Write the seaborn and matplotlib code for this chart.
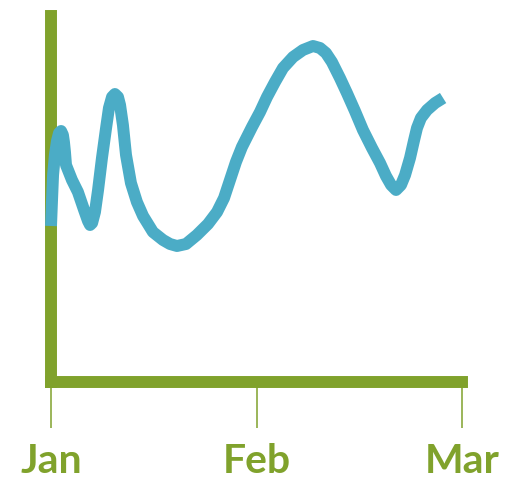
import pandas as pd
import numpy as np
import matplotlib
matplotlib.use("Agg")
import matplotlib.pyplot as plt
import seaborn as sns

# month position (Jan=0, Feb=1, Mar=2) and value (arbitrary units)
month_pos = [0.000, 0.005, 0.010, 0.019, 0.029, 0.039, 0.049, 0.058, 0.063, 0.068,
             0.073, 0.102, 0.131, 0.161, 0.180, 0.190, 0.200, 0.214, 0.229, 0.248,
             0.268, 0.282, 0.297, 0.311, 0.326, 0.336, 0.350, 0.365, 0.389, 0.418,
             0.448, 0.496, 0.545, 0.579, 0.613, 0.657, 0.710, 0.764, 0.808, 0.842,
             0.871, 0.900, 0.929, 0.978, 1.017, 1.051, 1.090, 1.129, 1.178, 1.226,
             1.275, 1.309, 1.338, 1.367, 1.406, 1.440, 1.479, 1.518, 1.562, 1.601,
             1.630, 1.655, 1.679, 1.703, 1.723, 1.747, 1.767, 1.781, 1.800, 1.830,
             1.869, 1.908]
values = [156, 182, 207, 227, 241, 249, 251, 247, 240, 230,
          217, 202, 190, 172, 161, 157, 159, 170, 192, 224,
          254, 274, 285, 288, 285, 277, 257, 227, 199, 180,
          166, 150, 142, 138, 136, 138, 147, 158, 170, 184,
          202, 220, 235, 255, 270, 285, 300, 314, 325, 332,
          336, 334, 329, 320, 304, 289, 271, 252, 234, 219,
          206, 197, 192, 197, 207, 224, 242, 254, 264, 272,
          279, 284]
month_labels = ["Jan", "Feb", "Mar"]

df = pd.DataFrame({"month": month_pos, "value": values})

green = "#80A22C"
blue = "#4BACC6"

sns.set_style("white")
plt.rcParams["font.family"] = ["Lato", "DejaVu Sans"]

fig = plt.figure(figsize=(5.05, 4.82), dpi=100)
ax = fig.add_axes([51 / 505, 100 / 482, 411 / 505, 366 / 482])

sns.lineplot(data=df, x="month", y="value", color=blue, linewidth=8.6,
             sort=False, estimator=None, ax=ax)
for l in ax.lines:
    l.set_solid_capstyle("butt")
    l.set_solid_joinstyle("round")
    l.set_zorder(3)
    l.set_clip_on(False)

ax.set_xlim(0, 2)
ax.set_ylim(0, 366)
ax.set_xticks([0, 1, 2])
ax.set_xticklabels(month_labels)
ax.set_yticks([])
ax.set_xlabel("")
ax.set_ylabel("")

for side in ["top", "right"]:
    ax.spines[side].set_visible(False)
for side in ["left", "bottom"]:
    ax.spines[side].set_color(green)
    ax.spines[side].set_linewidth(8.6)
    ax.spines[side].set_capstyle("projecting")

ax.tick_params(axis="x", bottom=True, direction="out", length=33, width=1.1,
               color=green, labelcolor=green, labelsize=29.5, pad=11)
for t in ax.get_xticklabels():
    t.set_fontweight("bold")

fig.savefig("out.png", dpi=100)
